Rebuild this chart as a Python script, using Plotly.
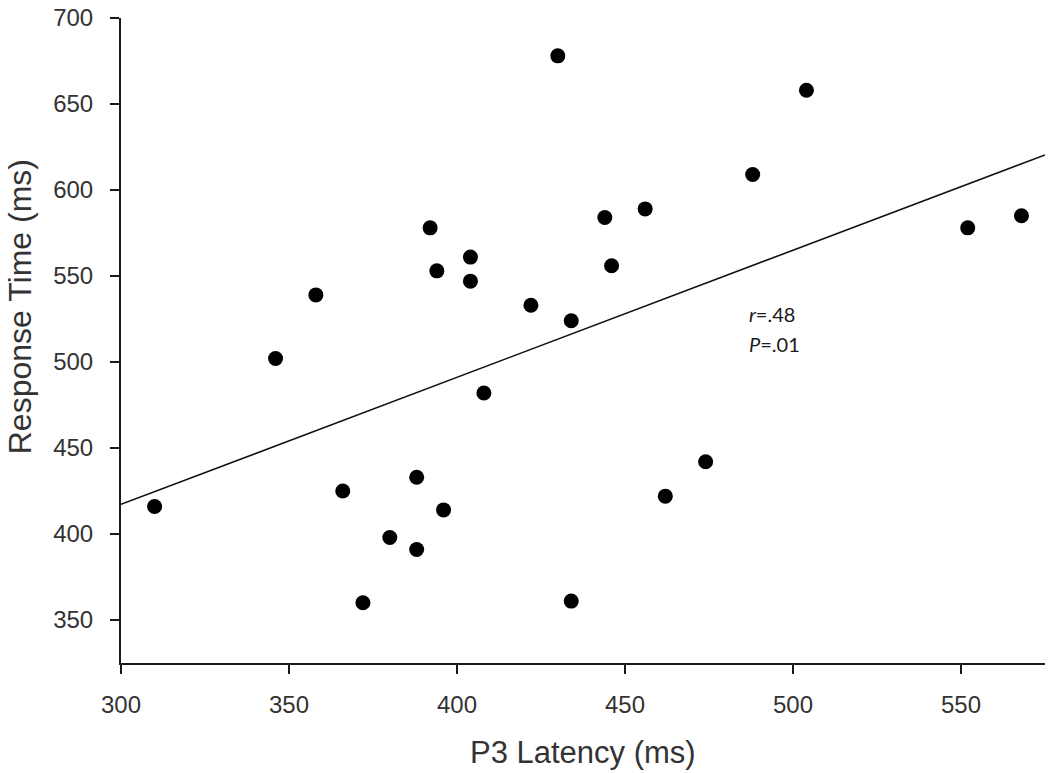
import numpy as np
import plotly.graph_objects as go

# P3 latency (ms) and response time (ms)
p3_latency = [310, 346, 358, 366, 372, 380, 388, 388, 392, 394, 396, 404, 404, 408,
              422, 430, 434, 434, 444, 446, 456, 462, 474, 488, 504, 552, 568]
response_time = [416, 502, 539, 425, 360, 398, 391, 433, 578, 553, 414, 561, 547, 482,
                 533, 678, 524, 361, 584, 556, 589, 422, 442, 609, 658, 578, 585]

x_ticks = [300, 350, 400, 450, 500, 550]
y_ticks = [350, 400, 450, 500, 550, 600, 650, 700]
x_range = [300, 575]
y_range = [325, 700]

stats_r = ".48"
stats_p = ".01"

# least-squares regression line
slope, intercept = np.polyfit(p3_latency, response_time, 1)
fit_x = np.array(x_range, dtype=float)
fit_y = slope * fit_x + intercept

fig = go.Figure()
fig.add_trace(go.Scatter(x=fit_x, y=fit_y, mode="lines",
                         line=dict(color="#111111", width=1.6),
                         showlegend=False, hoverinfo="skip"))
fig.add_trace(go.Scatter(x=p3_latency, y=response_time, mode="markers",
                         marker=dict(color="black", size=15),
                         showlegend=False))

tick_font = dict(family="Liberation Sans, Arial, sans-serif", size=24, color="#333333")
title_font = dict(family="Liberation Sans, Arial, sans-serif", size=31, color="#333333")
axis_common = dict(showgrid=False, zeroline=False, showline=True, linecolor="#1a1a1a",
                   linewidth=2, ticks="outside", ticklen=9, tickwidth=2, tickcolor="#1a1a1a",
                   tickfont=tick_font, ticklabeloverflow="allow", automargin=False)

fig.update_xaxes(range=x_range, tickvals=x_ticks, ticklabelstandoff=10, **axis_common)
fig.update_yaxes(range=y_range, tickvals=y_ticks, ticklabelstandoff=12, **axis_common)

fig.add_annotation(text="P3 Latency (ms)", xref="paper", yref="paper", x=0.5, y=-0.138,
                   xanchor="center", yanchor="middle", showarrow=False, font=title_font)
fig.add_annotation(text="Response Time (ms)", xref="paper", yref="paper", x=-0.109, y=0.552,
                   xanchor="center", yanchor="middle", textangle=-90, showarrow=False,
                   font=dict(family="Liberation Sans, Arial, sans-serif", size=32, color="#333333"))

stat_font = dict(family="Lato, Open Sans, sans-serif", size=20, color="#1a1a1a")
fig.add_annotation(text=f"<i>r</i>={stats_r}", x=486.3, y=528, xanchor="left", yanchor="middle",
                   showarrow=False, font=stat_font)
fig.add_annotation(text=f"<i>P</i>={stats_p}", x=486.3, y=510.5, xanchor="left", yanchor="middle",
                   showarrow=False, font=stat_font)

fig.update_layout(width=1050, height=773, margin=dict(l=121, r=5, t=18, b=110),
                  plot_bgcolor="white", paper_bgcolor="white")

# remove the page's default body margin so the figure sits at the window's corner
fig.write_html("out.html", config={"displayModeBar": False},
               post_script="document.body.style.margin='0';")
